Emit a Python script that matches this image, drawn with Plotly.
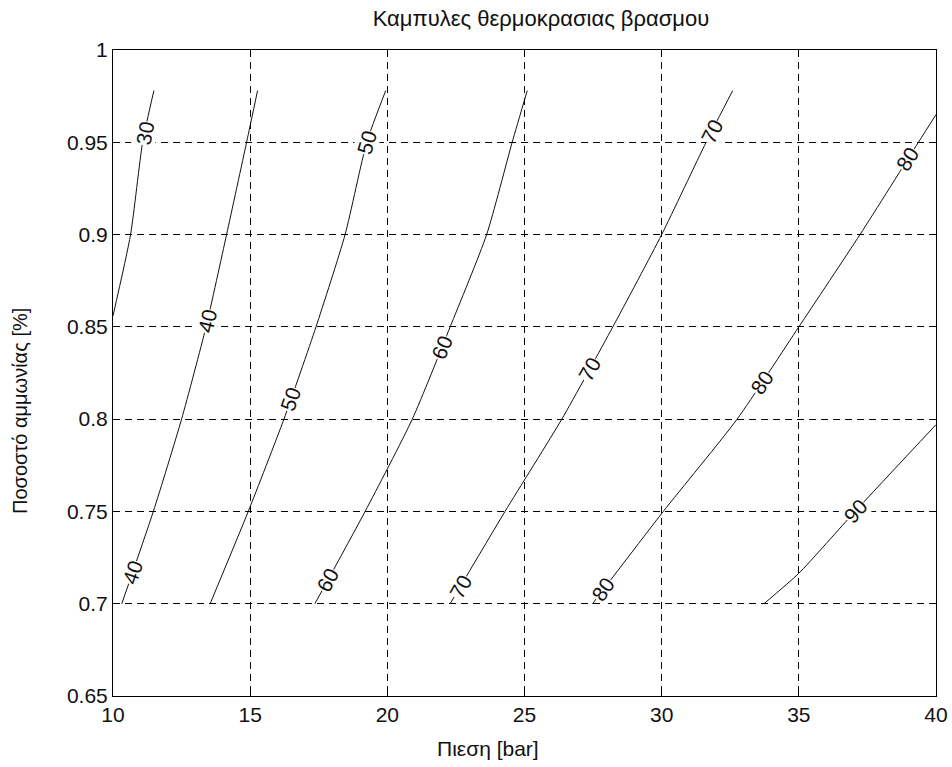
import math
import numpy as np
import plotly.graph_objects as go

# Boiling temperature isolines: pressure [bar] vs ammonia fraction
temps = [30, 40, 50, 60, 70, 80, 90]

y30 = [0.856, 0.90, 0.95, 0.978]
p30 = [10.0, 10.64, 11.08, 11.49]

y_full = [0.70, 0.75, 0.80, 0.85, 0.90, 0.95, 0.978]
p40 = [10.32, 11.47, 12.50, 13.39, 14.14, 14.87, 15.27]
p50 = [13.54, 14.93, 16.23, 17.40, 18.46, 19.25, 19.94]
p60 = [17.36, 19.19, 20.91, 22.29, 23.62, 24.55, 25.10]
p70 = [22.29, 24.29, 26.36, 28.22, 30.00, 31.62, 32.59]

y80 = [0.70, 0.75, 0.80, 0.85, 0.90, 0.95, 0.965]
p80 = [27.48, 30.06, 32.75, 35.00, 37.23, 39.36, 40.00]

y90 = [0.70, 0.7165, 0.75, 0.797]
p90 = [33.73, 35.00, 37.05, 40.00]

curves = {
    30: (p30, y30),
    40: (p40, y_full),
    50: (p50, y_full),
    60: (p60, y_full),
    70: (p70, y_full),
    80: (p80, y80),
    90: (p90, y90),
}

# where each inline label sits along its curve (ammonia fraction)
label_at = {
    30: [0.955],
    40: [0.717, 0.853],
    50: [0.811, 0.95],
    60: [0.713, 0.839],
    70: [0.709, 0.827, 0.956],
    80: [0.7075, 0.82, 0.941],
    90: [0.75],
}

x_ticks = [10, 15, 20, 25, 30, 35, 40]
y_ticks = [0.65, 0.7, 0.75, 0.8, 0.85, 0.9, 0.95, 1.0]
y_tick_text = ["0.65", "0.7", "0.75", "0.8", "0.85", "0.9", "0.95", "1"]

W, H = 952, 767
M = dict(l=113, r=16, t=50, b=71)
XR, YR = [10, 40], [0.65, 1.0]
px_x = (W - M["l"] - M["r"]) / (XR[1] - XR[0])
px_y = (H - M["t"] - M["b"]) / (YR[1] - YR[0])

FONT = "Liberation Sans, Arial, sans-serif"
FS = 21
INK = "#111111"

fig = go.Figure()
for t in temps:
    p, y = curves[t]
    fig.add_trace(go.Scatter(x=p, y=y, mode="lines",
                             line=dict(color=INK, width=1, shape="spline", smoothing=0.6),
                             showlegend=False, hoverinfo="skip"))

annotations = []
for t in temps:
    p, y = curves[t]
    for yl in label_at[t]:
        xl = float(np.interp(yl, y, p))
        d = 0.01
        x0 = float(np.interp(yl - d, y, p))
        x1 = float(np.interp(yl + d, y, p))
        ang = math.degrees(math.atan2(2 * d * px_y, (x1 - x0) * px_x))
        annotations.append(dict(
            x=xl, y=yl, text=str(t), showarrow=False, textangle=-ang,
            bgcolor="white", borderpad=0,
            font=dict(family=FONT, size=FS, color=INK)))

# axis titles placed as paper annotations
annotations.append(dict(
    text="Πιεση [bar]", xref="paper", yref="paper",
    x=(488 - M["l"]) / (W - M["l"] - M["r"]), y=-(748 - (H - M["b"])) / (H - M["t"] - M["b"]),
    xanchor="center", yanchor="middle", showarrow=False,
    font=dict(family=FONT, size=FS, color=INK)))
annotations.append(dict(
    text="Ποσοστό αμμωνίας [%]", xref="paper", yref="paper",
    x=-(M["l"] - 20) / (W - M["l"] - M["r"]), y=(H - M["b"] - 411) / (H - M["t"] - M["b"]),
    xanchor="center", yanchor="middle", showarrow=False, textangle=-90,
    font=dict(family=FONT, size=FS - 1, color=INK)))

axis_common = dict(
    showline=True, linecolor="black", linewidth=1, mirror="ticks",
    ticks="inside", ticklen=5, tickcolor="black",
    showgrid=True, gridcolor="black", gridwidth=1, griddash="7px,5px",
    zeroline=False, automargin=False,
    tickfont=dict(family=FONT, size=FS, color=INK),
)

fig.update_layout(
    width=W, height=H, margin=M,
    paper_bgcolor="white", plot_bgcolor="white",
    title=dict(text="Καμπυλες θερμοκρασιας βρασμου",
               x=541 / W, xanchor="center",
               y=1 - 18 / H, yanchor="middle",
               font=dict(family=FONT, size=FS + 1, color=INK)),
    xaxis=dict(range=XR, tickvals=x_ticks, ticktext=[str(v) for v in x_ticks],
               **axis_common),
    yaxis=dict(range=YR, tickvals=y_ticks, ticktext=y_tick_text,
               **axis_common),
    annotations=annotations,
)

fig.write_html("out.html")
